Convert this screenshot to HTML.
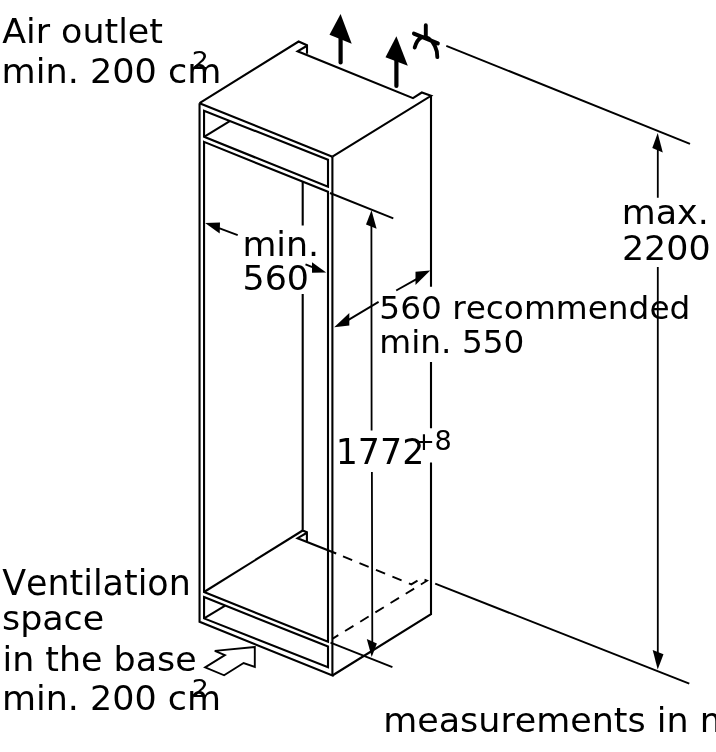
<!DOCTYPE html>
<html lang="en">
<head>
<meta charset="utf-8">
<title>Niche dimensions</title>
<style>
html,body{margin:0;padding:0;background:#fff;}
body{width:716px;height:752px;overflow:hidden;}
svg{display:block;position:absolute;left:0;top:0;will-change:transform;}
text{font-family:"DejaVu Sans","Liberation Sans",sans-serif;fill:#000;font-kerning:none;font-variant-ligatures:none;}
.l{fill:none;stroke:#000;stroke-width:2.1;stroke-linecap:butt;stroke-linejoin:miter;}
.d{fill:none;stroke:#000;stroke-width:1.9;}
.k{fill:none;stroke:#000;stroke-width:4.2;stroke-linecap:round;}
.a{fill:#000;stroke:none;}
</style>
</head>
<body>
<svg width="716" height="752" viewBox="0 0 716 752">
<rect width="716" height="752" fill="#fff"/>
<!-- cabinet -->
<g class="l">
<path d="M199.55 103.2 L298.6 41.5 L307 45.2 L307 53.8"/>
<path d="M306.6 46 L297.6 51.3 L413 98.1 L421.8 92.5 L431 95.8 L332.4 156.7"/>
<path d="M199.55 103.2 L332.4 156.7"/>
<path d="M199.55 103.2 L199.55 621.8 L332.4 675.5 L332.4 156.7"/>
<path d="M431 95.8 L431 286.8 M431 362 L431 428.2 M431 462.6 L431 614.2 L332.4 675.5"/>
<path d="M204.05 136.8 L204.05 110.7 L328 159.8 L328 186.8 Z"/>
<path d="M204.05 136.8 L230.2 120.8"/>
<path d="M204.05 141.9 L328 191.8 L328 641.7 L204.05 592 Z"/>
<path d="M204.05 592 L302.7 530.5"/>
<path d="M204.05 597.1 L328 646.5 L328 667.3 L204.05 618.4 Z"/>
<path d="M204.05 618.4 L225.2 605.6"/>
<path d="M302.7 181.6 L302.7 225.5 M302.7 294.1 L302.7 530.5 L306.9 532.3 L306.9 541.8"/>
<path d="M306.5 533 L297.6 538.2 L336.2 553.6"/>
<path d="M343 556.4 L411.3 584.4 L421.25 578.3 L427 580.7 L332.7 638.6" stroke-dasharray="9.9 7.9" style="stroke-width:1.85"/>
</g>

<!-- ventilation arrow -->
<path class="l" style="stroke-width:1.9" d="M254.8 647 L214.8 650.9 L224.9 655.1 L205.1 667.4 L224.1 675.3 L243.6 663 L254.8 666.9 Z"/>

<!-- air outlet arrows -->
<path class="k" d="M340.6 62.4 L340.6 35"/>
<path class="a" d="M340.6 13.9 L329.5 34.7 L351.7 43.8 Z"/>
<path class="k" d="M396.4 86 L396.4 58"/>
<path class="a" d="M396.4 36.2 L385.5 57.2 L407.8 65.7 Z"/>

<!-- ceiling symbol -->
<path class="k" style="stroke-width:3.9" d="M425.8 25.2 L425.8 37 M413.9 33.6 L437.9 43.4 M414.7 47.5 C420.7 25.8 438.1 41.8 437.3 57.1"/>

<!-- dimension lines -->
<g class="d">
<path d="M446.3 45.8 L690 143.9"/>
<path d="M435.2 583.7 L689.3 683.7"/>
<path d="M330 193 L393.3 218.4"/>
<path d="M330.5 642.6 L392.4 667.1"/>
<path d="M219 228.2 L237.7 235.2"/>
<path d="M305.5 264.3 L313 267.4"/>
<path d="M348.5 319.9 L378.6 301.9 M396.2 290.5 L416.5 279.2"/>
</g>
<g class="d" style="stroke-width:1.8">
<path d="M657.8 145 L657.8 197.8 M657.8 267 L657.8 655"/>
<path d="M371.4 222 L371.6 430.5 M371.9 472 L372.3 642"/>
</g>
<g class="a">
<path d="M657.7 132.9 L652.3 148.1 L662.8 152.5 Z"/>
<path d="M657.7 669.5 L652.7 650 L663.5 654.2 Z"/>
<path d="M371.5 210.2 L366 224.6 L376.6 228.8 Z"/>
<path d="M371.7 657 L366.8 639.1 L376.9 643.6 Z"/>
<path d="M205.1 223 L220 222.6 L219.7 233.5 Z"/>
<path d="M326.2 272.4 L312 272.7 L312 262.2 Z"/>
<path d="M334.2 327.3 L349.3 313 L349.3 325.6 Z"/>
<path d="M430.2 270.4 L415.5 271.8 L415.5 285 Z"/>
</g>

<g>
<text transform="translate(2.15 43.00) scale(1.0072 1)" font-size="34.60">Air outlet</text>
<text transform="translate(1.60 82.70) scale(1.0130 1)" font-size="34.60">min. 200 cm</text>
<text transform="translate(191.80 68.60) scale(1.0800 1)" font-size="24.80">2</text>
<text transform="translate(242.40 255.90) scale(1.0072 1)" font-size="34.60">min.</text>
<text transform="translate(242.50 289.50) scale(1.0072 1)" font-size="34.60">560</text>
<text transform="translate(379.30 318.80) scale(1.0000 1)" font-size="32.75">560 recommended</text>
<text transform="translate(379.30 353.40) scale(1.0000 1)" font-size="32.75">min. 550</text>
<text transform="translate(335.70 463.60) scale(0.9980 1)" font-size="34.90">1772</text>
<text transform="translate(412.95 450.20) scale(1.0250 1)" font-size="25.50">+</text>
<text transform="translate(434.60 450.30) scale(1.0200 1)" font-size="26.60">8</text>
<text transform="translate(621.80 224.20) scale(1.0072 1)" font-size="34.60">max.</text>
<text transform="translate(621.90 260.40) scale(1.0072 1)" font-size="34.60">2200</text>
<text transform="translate(2.20 595.30) scale(1.0078 1)" font-size="34.60">Ventilation</text>
<text transform="translate(2.00 629.80) scale(1.0072 1)" font-size="34.60">space</text>
<text transform="translate(2.50 670.70) scale(1.0072 1)" font-size="34.60">in the base</text>
<text transform="translate(2.00 710.20) scale(1.0092 1)" font-size="34.60">min. 200 cm</text>
<text transform="translate(191.80 696.50) scale(1.0800 1)" font-size="24.80">2</text>
<text transform="translate(383.20 732.40) scale(1.0092 1)" font-size="34.60">measurements in mm</text>
</g>
</svg>
</body>
</html>
